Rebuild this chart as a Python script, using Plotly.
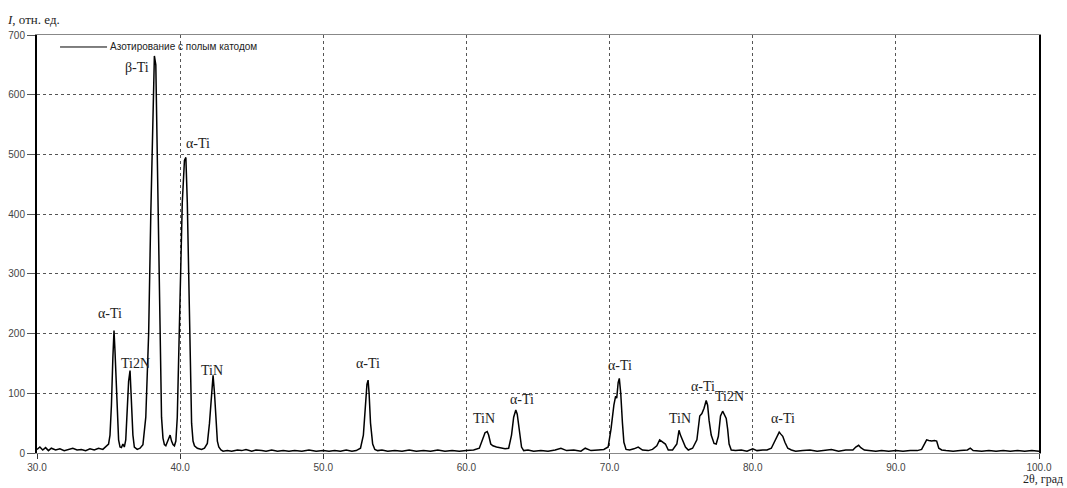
import plotly.graph_objects as go

# 2θ (deg) and intensity readings
two_theta = [
    30.0, 30.2, 30.4, 30.6, 30.8, 31.0, 31.3, 31.6, 31.9, 32.2, 32.5, 32.8, 33.1, 33.4, 33.7,
    34.0, 34.3, 34.6, 34.8, 35.0, 35.1, 35.2, 35.3, 35.38, 35.45, 35.55, 35.62, 35.7, 35.8, 35.9,
    36.0, 36.1, 36.2, 36.3, 36.4, 36.5, 36.6, 36.7, 36.8, 36.9, 37.0, 37.2, 37.4, 37.6, 37.8,
    37.95, 38.1, 38.2, 38.3, 38.4, 38.5, 38.6, 38.7, 38.8, 38.9, 39.0, 39.1, 39.2, 39.3, 39.4,
    39.5, 39.6, 39.7, 39.8, 39.9, 40.0, 40.15, 40.3, 40.4, 40.5, 40.6, 40.7, 40.8, 40.9, 41.0,
    41.2, 41.5, 41.7, 41.9, 42.05, 42.2, 42.3, 42.4, 42.5, 42.6, 42.7, 42.85, 43.0, 43.3, 43.6,
    44.0, 44.3, 44.6, 45.0, 45.3, 45.7, 46.0, 46.4, 46.8, 47.2, 47.6, 48.0, 48.5, 49.0, 49.5,
    50.0, 50.4, 50.8, 51.2, 51.6, 52.0, 52.3, 52.6, 52.8, 52.95, 53.05, 53.13, 53.2, 53.3, 53.45,
    53.6, 53.8, 54.1, 54.5, 55.0, 55.5, 56.0, 56.5, 57.0, 57.5, 58.0, 58.5, 59.0, 59.5, 60.0,
    60.5, 60.9, 61.1, 61.3, 61.45, 61.55, 61.7, 61.85, 62.1, 62.4, 62.7, 62.95, 63.15, 63.3, 63.45,
    63.55, 63.7, 63.85, 64.0, 64.3, 64.7, 65.2, 65.7, 66.2, 66.6, 67.0, 67.5, 68.0, 68.3, 68.7,
    69.2, 69.6, 69.9, 70.1, 70.3, 70.42, 70.5, 70.6, 70.68, 70.78, 70.9, 71.0, 71.15, 71.4, 71.7,
    72.0, 72.3, 72.7, 73.0, 73.3, 73.5, 73.7, 73.9, 74.1, 74.4, 74.7, 74.85, 74.95, 75.05, 75.15,
    75.3, 75.5, 75.8, 76.1, 76.3, 76.45, 76.6, 76.75, 76.85, 76.95, 77.1, 77.3, 77.45, 77.6, 77.75,
    77.9, 78.0, 78.15, 78.25, 78.35, 78.5, 78.8, 79.2, 79.6, 80.0, 80.3, 80.7, 81.0, 81.3, 81.5,
    81.7, 81.85, 81.95, 82.1, 82.25, 82.45, 82.7, 83.0, 83.5, 84.0, 84.5, 85.0, 85.5, 86.0, 86.5,
    87.0, 87.2, 87.4, 87.55, 87.8, 88.2, 88.6, 89.0, 89.5, 90.0, 90.5, 91.0, 91.5, 91.8, 92.0,
    92.15, 92.3, 92.5, 92.7, 92.85, 93.0, 93.2, 93.5, 94.0, 94.5, 95.0, 95.2, 95.4, 96.0, 96.5,
    97.0, 97.5, 98.0, 98.5, 99.0, 99.5, 100.0,
]
intensity = [
    6, 10, 5, 9, 4, 8, 5, 7, 4, 6, 8, 5, 6, 4, 7,
    5, 8, 6, 10, 15, 30, 80, 160, 205, 170, 120, 60, 22, 10, 9,
    15, 10, 22, 70, 120, 138, 90, 30, 10, 7, 6, 8, 14, 60, 200,
    400, 600, 665, 650, 500, 300, 150, 60, 25, 14, 12, 18, 26, 30, 20,
    14, 12, 20, 60, 150, 280, 420, 490, 495, 420, 280, 130, 50, 20, 12,
    8, 6, 8, 16, 50, 110, 130, 100, 50, 20, 10, 5, 3, 4, 3,
    5, 4, 6, 3, 5, 4, 3, 5, 3, 4, 3, 4, 3, 5, 3,
    4, 3, 4, 3, 5, 3, 4, 8, 30, 80, 115, 122, 100, 50, 15,
    6, 4, 5, 3, 4, 3, 5, 3, 4, 3, 5, 3, 4, 3, 4,
    5, 8, 20, 34, 36, 30, 15, 12, 10, 9, 7, 8, 30, 60, 72,
    65, 35, 10, 4, 5, 3, 4, 3, 5, 8, 4, 5, 3, 8, 4,
    5, 6, 10, 40, 80, 95, 92, 118, 125, 100, 50, 18, 6, 5, 7,
    10, 5, 4, 6, 12, 22, 18, 15, 5, 5, 15, 38, 30, 25, 18,
    10, 5, 8, 22, 62, 66, 75, 88, 80, 55, 30, 16, 15, 28, 62,
    70, 66, 58, 40, 15, 5, 4, 5, 3, 7, 4, 5, 5, 8, 18,
    28, 35, 32, 28, 18, 8, 5, 3, 4, 5, 3, 4, 6, 3, 5,
    5, 10, 13, 9, 5, 4, 3, 4, 3, 4, 3, 4, 4, 6, 14,
    22, 21, 20, 21, 20, 8, 5, 4, 3, 4, 5, 8, 4, 3, 4,
    3, 4, 3, 4, 3, 4, 3,
]

label_text = ["α-Ti", "Ti2N", "β-Ti", "α-Ti", "TiN", "α-Ti", "TiN", "α-Ti", "α-Ti", "TiN", "α-Ti", "Ti2N", "α-Ti"]
label_x = [35.1, 36.85, 37.0, 41.25, 42.25, 53.1, 61.25, 63.9, 70.7, 74.95, 76.5, 78.35, 82.1]
label_y = [233, 150, 646, 519, 139, 150, 58, 89, 147, 57, 111, 95, 58]

series_name = "Азотирование с полым катодом"
x_ticks = [30, 40, 50, 60, 70, 80, 90, 100]
y_ticks = [0, 100, 200, 300, 400, 500, 600, 700]

fig = go.Figure()
fig.add_trace(go.Scatter(
    x=two_theta, y=intensity, mode="lines", name=series_name,
    line=dict(color="black", width=1.5), showlegend=False,
))

for t, x, y in zip(label_text, label_x, label_y):
    fig.add_annotation(x=x, y=y, text=t, showarrow=False, xref="x", yref="y",
                       font=dict(family="Liberation Serif", size=14, color="#222"))

# legend drawn as a line sample plus text (paper coordinates)
fig.add_shape(type="line", xref="paper", yref="paper", x0=0.023, x1=0.0699, y0=0.9713, y1=0.9713,
              line=dict(color="black", width=1))
fig.add_annotation(xref="paper", yref="paper", x=0.0705, y=0.9713, xanchor="left", yanchor="middle",
                   text=series_name, showarrow=False,
                   font=dict(family="Liberation Sans", size=10, color="#222"))

fig.add_annotation(xref="paper", yref="paper", x=-0.032, y=1.036, xanchor="left", yanchor="middle",
                   text="<i>I</i>, отн. ед.", showarrow=False,
                   font=dict(family="Liberation Serif", size=13, color="#222"))
fig.add_annotation(xref="paper", yref="paper", x=1.025, y=-0.062, xanchor="right", yanchor="middle",
                   text="2θ, град", showarrow=False, borderpad=0,
                   font=dict(family="Liberation Serif", size=12, color="#222"))

fig.update_layout(
    width=1067, height=488,
    margin=dict(l=37, r=28, t=35, b=35, autoexpand=False),
    paper_bgcolor="white", plot_bgcolor="white",
    font=dict(family="Liberation Sans", size=10, color="#444"),
    showlegend=False,
)
fig.update_xaxes(
    range=[30, 100], tickvals=x_ticks, tickformat=".1f", automargin=False,
    showgrid=True, gridcolor="#555", griddash="dot", gridwidth=1,
    showline=True, linecolor="#888", linewidth=1, mirror=True,
    ticks="outside", ticklen=5, tickcolor="#333", zeroline=False,
    tickfont=dict(family="Liberation Sans", size=10, color="#444"),
)
fig.update_yaxes(
    range=[0, 700], tickvals=y_ticks, automargin=False,
    showgrid=True, gridcolor="#555", griddash="dot", gridwidth=1,
    showline=True, linecolor="black", linewidth=2, mirror=True,
    ticks="outside", ticklen=8, tickcolor="#555", zeroline=False,
    tickfont=dict(family="Liberation Sans", size=10, color="#444"),
)

fig.write_html("out.html", config={"displayModeBar": False},
               post_script="document.body.style.margin='0px';document.body.style.overflow='hidden';")
